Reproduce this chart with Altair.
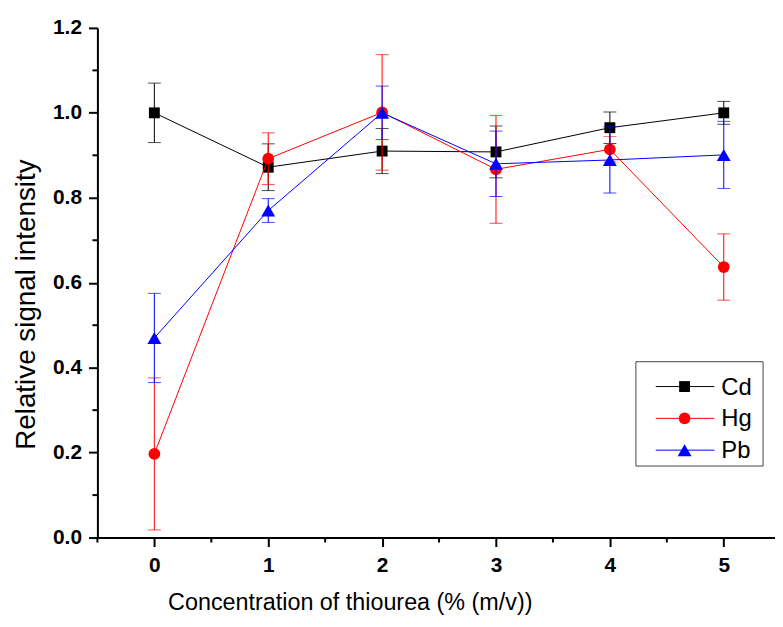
import altair as alt
import pandas as pd

conc = [0, 1, 2, 3, 4, 5]
series = ["Cd", "Hg", "Pb"]
cd_mean = [1.000, 0.872, 0.910, 0.908, 0.965, 1.000]
cd_err = [0.070, 0.055, 0.053, 0.061, 0.037, 0.027]
hg_mean = [0.197, 0.892, 1.001, 0.867, 0.914, 0.637]
hg_err = [0.179, 0.061, 0.136, 0.127, 0.030, 0.078]
pb_mean = [0.470, 0.770, 1.000, 0.880, 0.889, 0.901]
pb_err = [0.105, 0.028, 0.063, 0.077, 0.078, 0.079]

x_major = [0, 1, 2, 3, 4, 5]
x_minor = [-0.5, 0.5, 1.5, 2.5, 3.5, 4.5]
y_major = [0.0, 0.2, 0.4, 0.6, 0.8, 1.0, 1.2]
y_minor = [0.1, 0.3, 0.5, 0.7, 0.9, 1.1]

means = [cd_mean, hg_mean, pb_mean]
errs = [cd_err, hg_err, pb_err]
colors = ["#000000", "#ff0000", "#0000ff"]
shapes = ["square", "circle", "triangle-up"]
sizes = [120, 140, 195]

FONT = "Liberation Sans"
W, H = 682, 513

xscale = alt.Scale(domain=[-0.5, 5.45], nice=False, zero=False)
yscale = alt.Scale(domain=[0, 1.2], nice=False)

xaxis = alt.Axis(
    values=x_major,
    format="d",
    tickSize=9,
    title="Concentration of thiourea (% (m/v))",
    titleX=254,
    grid=False,
)
yaxis = alt.Axis(
    values=y_major,
    format=".1f",
    tickSize=9,
    title="Relative signal intensity",
    titleY=278,
    grid=False,
)

layers = []

# minor ticks
layers.append(
    alt.Chart(pd.DataFrame({"v": x_minor})).mark_rule(color="black", strokeWidth=2).encode(
        x=alt.X("v:Q", scale=xscale, axis=xaxis), y=alt.value(H), y2=alt.value(H + 5)
    )
)
layers.append(
    alt.Chart(pd.DataFrame({"v": y_minor})).mark_rule(color="black", strokeWidth=2).encode(
        y=alt.Y("v:Q", scale=yscale, axis=yaxis), x=alt.value(-5), x2=alt.value(0)
    )
)

for i, s in enumerate(series):
    df = pd.DataFrame({
        "conc": conc,
        "mean": means[i],
        "lo": [m - e for m, e in zip(means[i], errs[i])],
        "hi": [m + e for m, e in zip(means[i], errs[i])],
    })
    base = alt.Chart(df)
    x = alt.X("conc:Q", scale=xscale, axis=xaxis)
    rule = base.mark_rule(color=colors[i], strokeWidth=1).encode(
        x=x, y=alt.Y("lo:Q", scale=yscale, axis=yaxis), y2="hi:Q"
    )
    cap_lo = base.mark_tick(color=colors[i], orient="horizontal", size=13, thickness=1).encode(
        x=x, y=alt.Y("lo:Q", scale=yscale, axis=yaxis)
    )
    cap_hi = base.mark_tick(color=colors[i], orient="horizontal", size=13, thickness=1).encode(
        x=x, y=alt.Y("hi:Q", scale=yscale, axis=yaxis)
    )
    line = base.mark_line(color=colors[i], strokeWidth=1).encode(
        x=x, y=alt.Y("mean:Q", scale=yscale, axis=yaxis)
    )
    pts = base.mark_point(
        filled=True, opacity=1, color=colors[i], shape=shapes[i], size=sizes[i]
    ).encode(x=x, y=alt.Y("mean:Q", scale=yscale, axis=yaxis))
    layers += [rule, cap_lo, cap_hi, line, pts]

# legend box
box = alt.Chart(pd.DataFrame({"a": [0]})).mark_rect(
    fill="white", stroke="#444444", strokeWidth=1
).encode(x=alt.value(542), x2=alt.value(670), y=alt.value(336), y2=alt.value(441))
layers.append(box)
for i, s in enumerate(series):
    ly = 361 + 32 * i
    d = alt.Chart(pd.DataFrame({"name": [s]}))
    layers.append(
        d.mark_rule(color=colors[i], strokeWidth=1).encode(
            x=alt.value(562), x2=alt.value(621), y=alt.value(ly)
        )
    )
    layers.append(
        d.mark_point(filled=True, opacity=1, color=colors[i], shape=shapes[i], size=sizes[i]).encode(
            x=alt.value(591), y=alt.value(ly)
        )
    )
    layers.append(
        d.mark_text(align="left", baseline="middle", font=FONT, fontSize=24, color="black").encode(
            x=alt.value(628), y=alt.value(ly + 1), text="name:N"
        )
    )

chart = alt.layer(*layers).properties(
    width=W,
    height=H,
    autosize=alt.AutoSizeParams(type="none"),
    padding={"left": 90, "top": 18, "right": 0, "bottom": 90},
).configure_view(stroke=None).configure_axis(
    domainColor="black",
    domainWidth=2,
    tickColor="black",
    tickWidth=2,
    labelFont=FONT,
    labelFontWeight="bold",
    labelFontSize=21,
    labelColor="black",
    titleFont=FONT,
    titleFontWeight="normal",
    titleColor="black",
).configure_axisX(titlePadding=15, labelPadding=8, titleFontSize=23.5).configure_axisY(
    titlePadding=12, labelPadding=7, titleFontSize=28
)

chart.save("out.html", embed_options={"renderer": "svg", "actions": False})
